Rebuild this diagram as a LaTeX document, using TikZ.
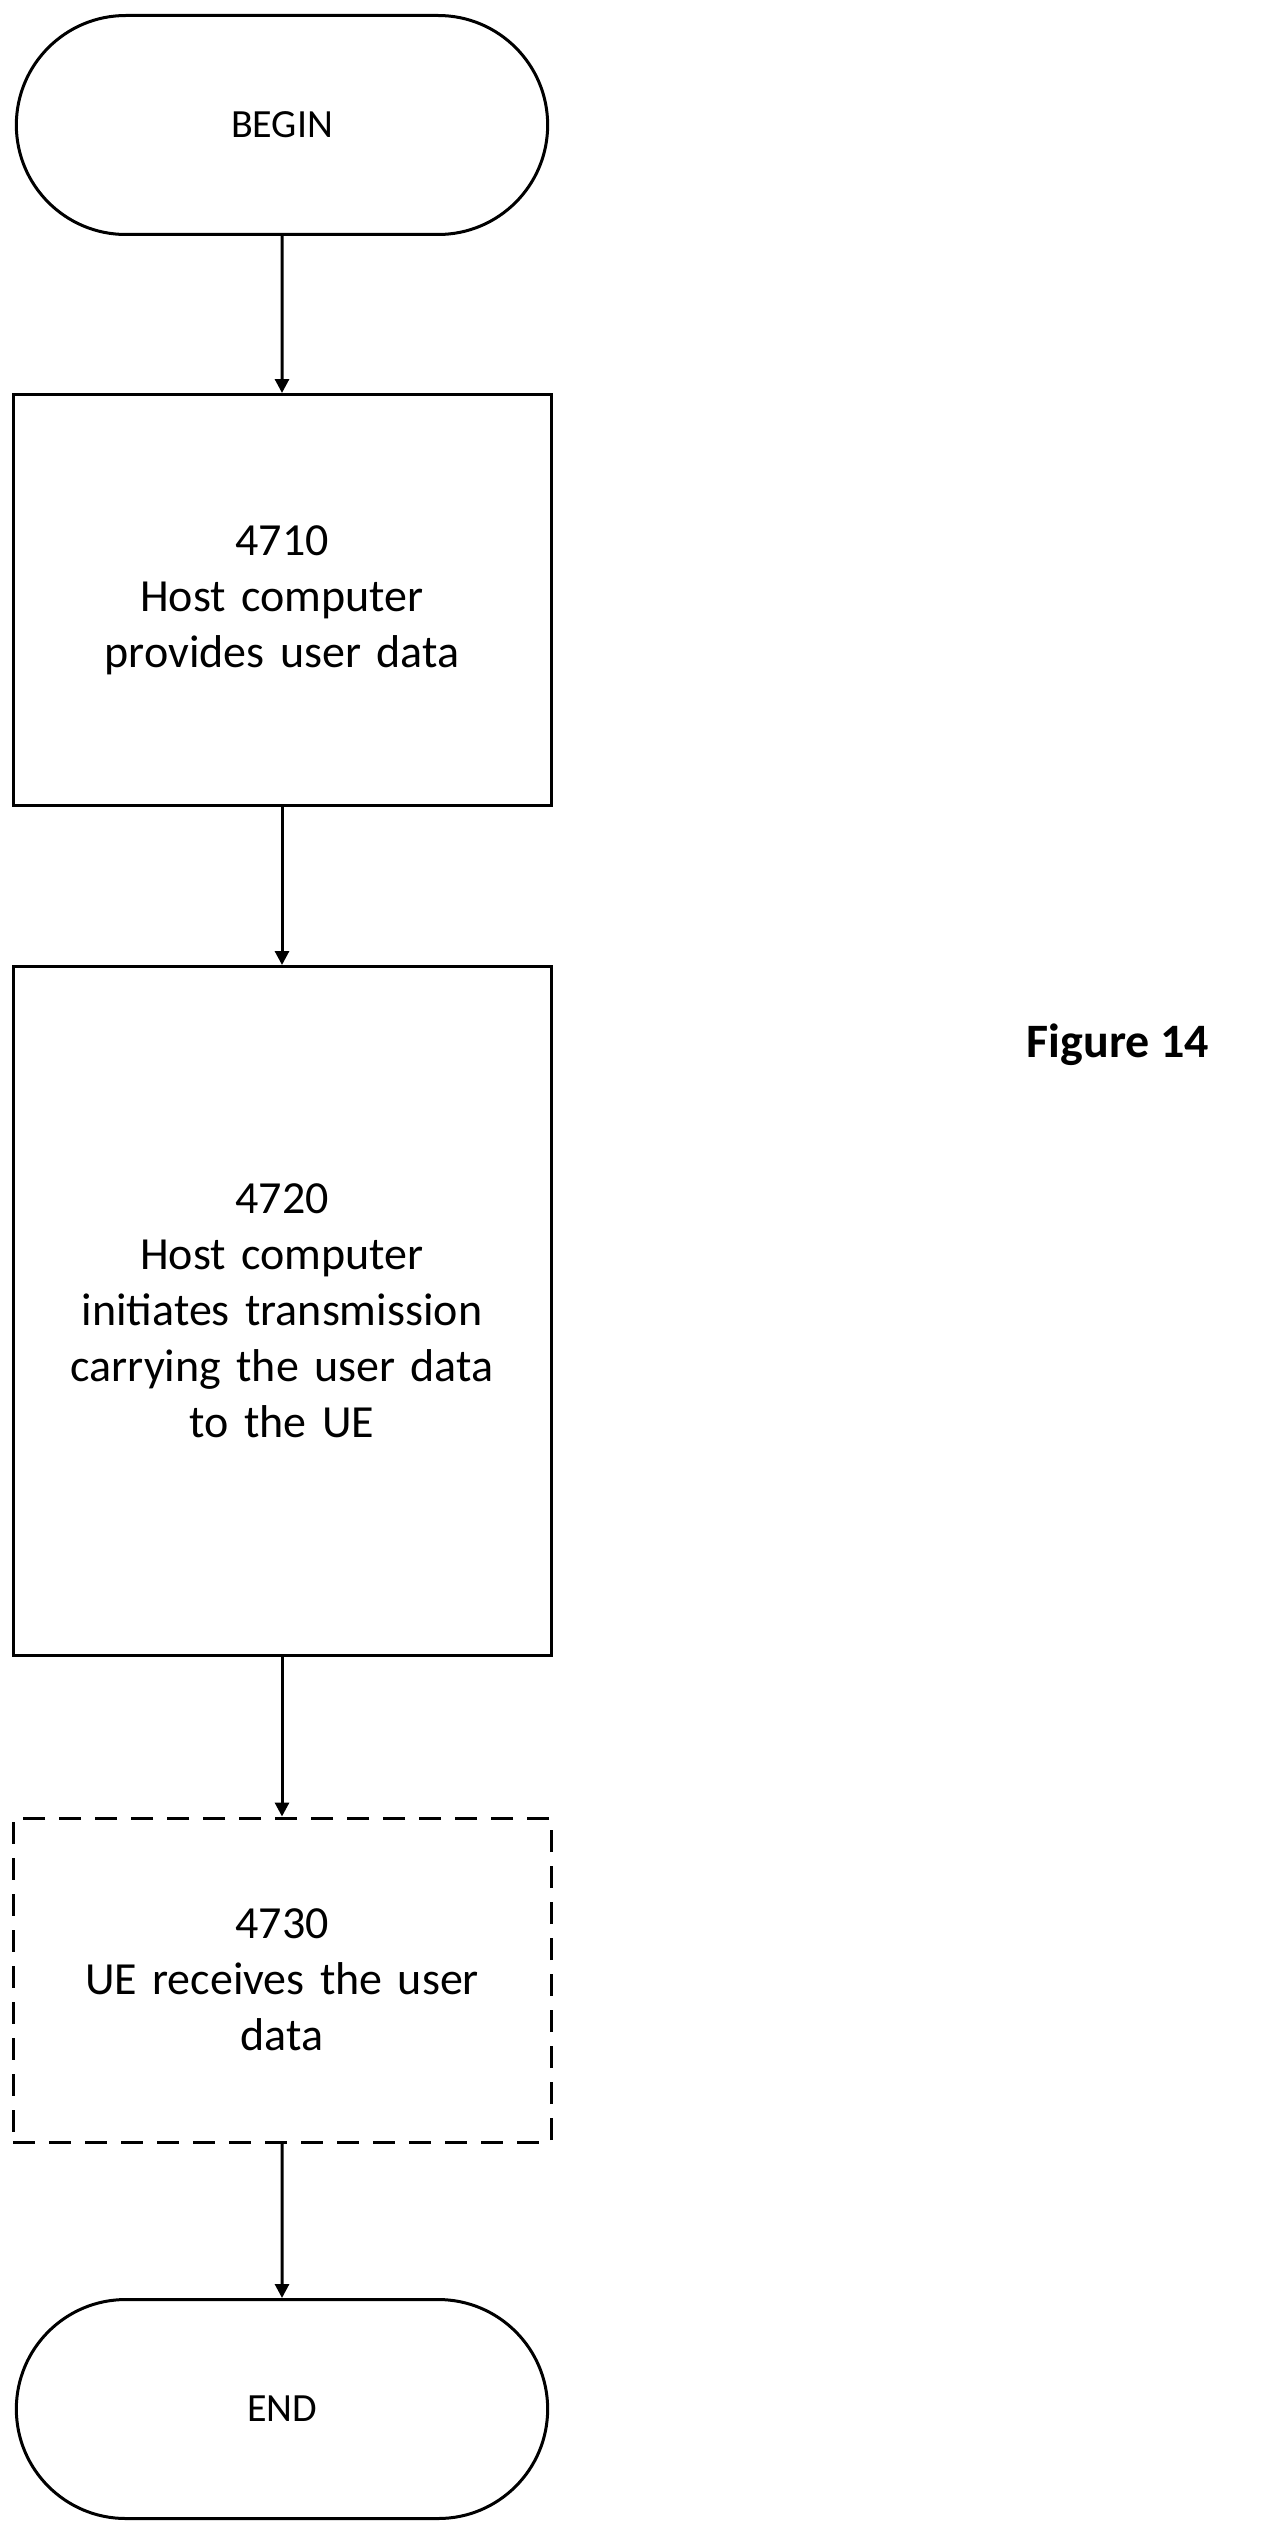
\documentclass[tikz,border=0pt]{standalone}
\usepackage{fontspec}
\setmainfont{Carlito}
\usetikzlibrary{arrows.meta,positioning,shapes.misc}
\begin{document}
\begin{tikzpicture}[
        x=1pt, y=-1pt,
        >={Triangle[length=14pt,width=14pt]},
        term/.style={rounded rectangle, draw, line width=3pt,
            minimum width=538pt, minimum height=219pt, font=\fontsize{40}{50}\selectfont},
        flowstep/.style={rectangle, draw, line width=3pt, minimum width=538pt,
            text width=500pt, align=center, font=\fontsize{46}{56}\selectfont},
        arrow/.style={->, line width=3pt},
    ]
    \useasboundingbox (0,0) rectangle (1265,2531);

    % terminals
    \node[term] (begin) at (282,125) {BEGIN};
    \node[term] (end) at (282,2409) {END};

    % steps
    \node[flowstep, minimum height=411pt] (s4710) at (282,600)
        {4710\\Host computer\\provides user data};
    \node[flowstep, minimum height=689pt] (s4720) at (282,1311)
        {4720\\Host computer\\initiates transmission\\carrying the user data\\to the UE};
    \node[flowstep, dashed, dash pattern=on 22pt off 14pt, minimum height=324pt] (s4730) at (282,1980)
        {4730\\UE receives the user\\data};

    % caption
    \node[font=\fontsize{48}{58}\selectfont\bfseries] (fig) at (1118,1045) {Figure 14};

    % arrows
    \draw[arrow] (begin) -- (s4710);
    \draw[arrow] (s4710) -- (s4720);
    \draw[arrow] (s4720) -- (s4730);
    \draw[arrow] (s4730) -- (end);
\end{tikzpicture}
\end{document}
